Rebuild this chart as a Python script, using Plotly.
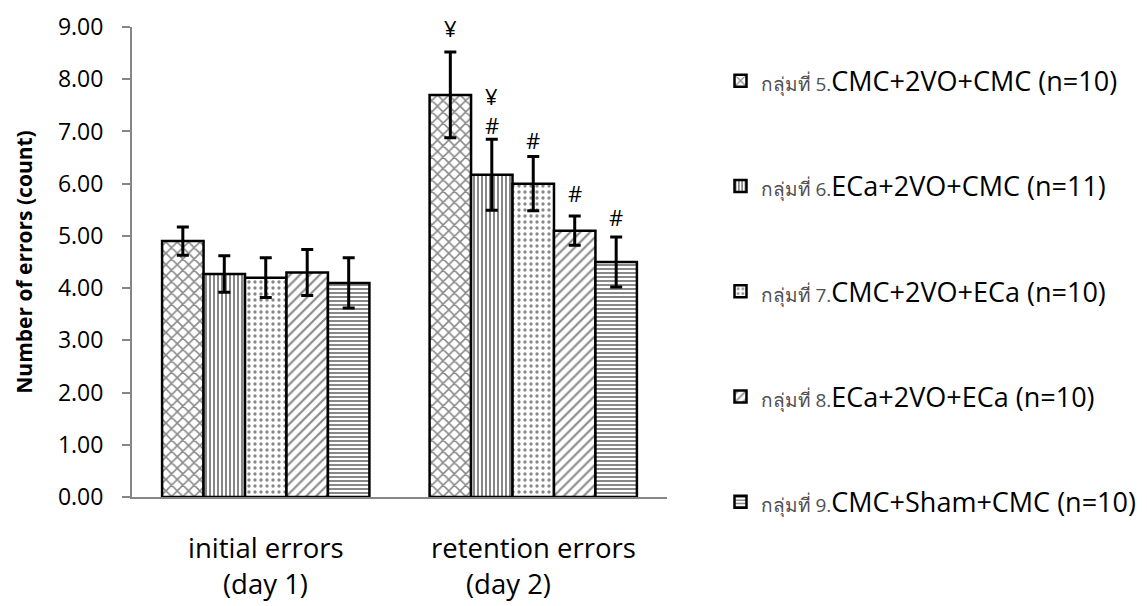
import plotly.graph_objects as go

# Error counts per group (mean ± SE)
categories = ["initial errors", "retention errors"]
cat_line2 = ["(day 1)", "(day 2)"]
groups = [
    ("5.", "CMC+2VO+CMC (n=10)"),
    ("6.", "ECa+2VO+CMC (n=11)"),
    ("7.", "CMC+2VO+ECa (n=10)"),
    ("8.", "ECa+2VO+ECa (n=10)"),
    ("9.", "CMC+Sham+CMC (n=10)"),
]
means = [
    [4.90, 7.70],
    [4.27, 6.17],
    [4.20, 6.00],
    [4.30, 5.10],
    [4.10, 4.50],
]
sems = [
    [0.27, 0.82],
    [0.35, 0.68],
    [0.38, 0.52],
    [0.44, 0.28],
    [0.48, 0.48],
]
# Significance marks on the retention-day bars: (group index, symbol, y)
marks = [
    (0, "¥", 8.98),
    (1, "¥", 7.68),
    (1, "#", 7.13),
    (2, "#", 6.84),
    (3, "#", 5.82),
    (4, "#", 5.36),
]
y_ticks = [0, 1, 2, 3, 4, 5, 6, 7, 8, 9]

patterns = [
    dict(shape="x", size=8, solidity=0.35),
    dict(shape="|", size=4, solidity=0.5),
    dict(shape=".", size=6, solidity=0.25),
    dict(shape="/", size=7, solidity=0.3),
    dict(shape="-", size=4, solidity=0.5),
]

FONT = "Open Sans"
bargap = 0.225
n = len(groups)
x_idx = list(range(len(categories)))

fig = go.Figure()
for i, ((num, name), m, e, p) in enumerate(zip(groups, means, sems, patterns)):
    label = (f'<span style="font-size:19px;color:#505050">กลุ่มที่ {num}</span>'
             f'{name}')
    fig.add_trace(go.Bar(
        x=x_idx, y=m, name=label, legendgroup=f"g{i}",
        marker=dict(color="white", line=dict(color="black", width=2.5),
                    pattern=dict(fgcolor="#111111", bgcolor="white", **p)),
        error_y=dict(type="data", array=e, color="black", thickness=3, width=6),
    ))

slot = (1 - bargap) / n
for gi, sym, yv in marks:
    fig.add_annotation(x=1 + (gi - (n - 1) / 2) * slot, y=yv, text=sym,
                       showarrow=False, xref="x", yref="y", yanchor="middle",
                       font=dict(family=FONT, size=22, color="black"))

for k, (l1, l2) in enumerate(zip(categories, cat_line2)):
    fig.add_annotation(x=k, y=-0.1085, xref="x", yref="paper", text=l1,
                       yanchor="middle", showarrow=False,
                       font=dict(family=FONT, size=27.5, color="black"))
    fig.add_annotation(x=k, y=-0.183, xref="x", yref="paper", text=l2,
                       yanchor="middle", xshift=0 if k == 0 else -25,
                       showarrow=False,
                       font=dict(family=FONT, size=27.5, color="black"))

fig.update_layout(
    width=1147, height=606,
    margin=dict(l=132, r=480, t=27, b=109, autoexpand=False),
    paper_bgcolor="white", plot_bgcolor="white",
    barmode="group", bargap=bargap, bargroupgap=0,
    font=dict(family=FONT, color="black"),
    showlegend=True,
    legend=dict(x=1.1, xanchor="left", y=0.937, yanchor="top",
                font=dict(family=FONT, size=27, color="black"),
                tracegroupgap=67.2, maxheight=600,
                bgcolor="rgba(0,0,0,0)"),
    xaxis=dict(range=[-0.5, 1.5], showticklabels=False, ticks="",
               showline=True, linecolor="#868686", linewidth=2,
               showgrid=False, zeroline=False),
    yaxis=dict(range=[0, 9], tickvals=y_ticks, tickformat=".2f",
               ticks="outside", ticklen=8, tickcolor="#868686", tickwidth=2,
               ticklabelstandoff=14,
               showline=True, linecolor="#868686", linewidth=2,
               showgrid=False, zeroline=False,
               tickfont=dict(family=FONT, size=23, color="black"),
               title=dict(text="<b>Number of errors (count)</b>",
                          font=dict(family=FONT, size=21, color="black"),
                          standoff=20)),
)

fig.write_html("out.html")
